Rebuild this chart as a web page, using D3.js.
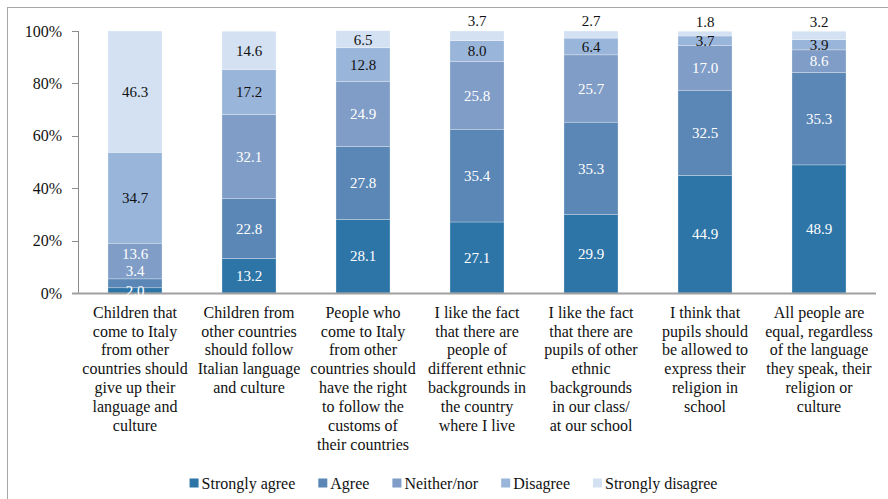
<!DOCTYPE html>
<html>
<head>
<meta charset="utf-8">
<script src="https://cdn.jsdelivr.net/npm/d3@7"></script>
<style>
  html, body { margin: 0; padding: 0; background: #fff; }
  svg { display: block; }
  svg text { font-family: "Liberation Serif", "Times New Roman", serif; }
</style>
</head>
<body>
<svg id="chart" width="888" height="499"></svg>
<script>
// Statements shown on the x axis (one entry per wrapped line)
const categories = [
  ["Children that", "come to Italy", "from other", "countries should", "give up their", "language and", "culture"],
  ["Children from", "other countries", "should follow", "Italian language", "and culture"],
  ["People who", "come to Italy", "from other", "countries should", "have the right", "to follow the", "customs of", "their countries"],
  ["I like the fact", "that there are", "people of", "different ethnic", "backgrounds in", "the country", "where I live"],
  ["I like the fact", "that there are", "pupils of other", "ethnic", "backgrounds", "in our class/", "at our school"],
  ["I think that", "pupils should", "be allowed to", "express their", "religion in", "school"],
  ["All people are", "equal, regardless", "of the language", "they speak, their", "religion or", "culture"]
];

const seriesNames = ["Strongly agree", "Agree", "Neither/nor", "Disagree", "Strongly disagree"];

// Percentages per answer, one value per statement
const stronglyAgree    = [2.0, 13.2, 28.1, 27.1, 29.9, 44.9, 48.9];
const agree            = [3.4, 22.8, 27.8, 35.4, 35.3, 32.5, 35.3];
const neitherNor       = [13.6, 32.1, 24.9, 25.8, 25.7, 17.0, 8.6];
const disagree         = [34.7, 17.2, 12.8, 8.0, 6.4, 3.7, 3.9];
const stronglyDisagree = [46.3, 14.6, 6.5, 3.7, 2.7, 1.8, 3.2];

const yTicks = [0, 20, 40, 60, 80, 100];

const seriesValues = [stronglyAgree, agree, neitherNor, disagree, stronglyDisagree];
const colors = ["#2E75A7", "#5B87B6", "#7F9DC6", "#9AB5DA", "#D3E1F3"];
const labelColors = ["#fff", "#fff", "#fff", "#111", "#111"];

const svg = d3.select("#chart");
const W = 888, H = 499;

// outer frame
svg.append("rect")
  .attr("x", 7.5).attr("y", 7.5)
  .attr("width", W + 10).attr("height", H + 10)
  .attr("fill", "none").attr("stroke", "#a6a6a6").attr("stroke-width", 1);

const x = d3.scaleBand()
  .domain(d3.range(categories.length))
  .range([78, 876])
  .paddingInner(0.526)
  .paddingOuter(0.263);

const y = d3.scaleLinear().domain([0, 100]).range([293, 31]);

// build stack rows
const rows = categories.map((c, i) => {
  const r = { idx: i };
  seriesNames.forEach((s, k) => { r[s] = seriesValues[k][i]; });
  return r;
});
const stacked = d3.stack().keys(seriesNames)(rows);

// bars
const layers = svg.append("g").selectAll("g")
  .data(stacked)
  .join("g")
  .attr("fill", (d, k) => colors[k]);

layers.selectAll("rect")
  .data(d => d)
  .join("rect")
  .attr("x", d => x(d.data.idx))
  .attr("width", x.bandwidth())
  .attr("y", d => y(d[1]))
  .attr("height", d => y(d[0]) - y(d[1]))
  .attr("stroke", "rgba(255,255,255,0.45)")
  .attr("stroke-width", 0.6);

// y axis
const axis = svg.append("g");
axis.append("line")
  .attr("x1", 78.5).attr("x2", 78.5)
  .attr("y1", y(100)).attr("y2", y(0))
  .attr("stroke", "#8c8c8c").attr("stroke-width", 1);
axis.selectAll(".tick")
  .data(yTicks)
  .join("line")
  .attr("x1", 72).attr("x2", 78.5)
  .attr("y1", d => Math.round(y(d)) + 0.5).attr("y2", d => Math.round(y(d)) + 0.5)
  .attr("stroke", "#8c8c8c");
axis.selectAll("text")
  .data(yTicks)
  .join("text")
  .attr("x", 62)
  .attr("y", d => y(d))
  .attr("dy", "0.35em")
  .attr("text-anchor", "end")
  .attr("font-size", 16)
  .attr("fill", "#111")
  .text(d => d + "%");

// baseline
svg.append("line")
  .attr("x1", 72).attr("x2", 876)
  .attr("y1", y(0) + 0.5).attr("y2", y(0) + 0.5)
  .attr("stroke", "#a0a0a0").attr("stroke-width", 2);

// value labels
const nudge = { "0-1": -13, "0-2": -7 };
stacked.forEach((layer, k) => {
  layer.forEach(d => {
    const i = d.data.idx;
    const v = seriesValues[k][i];
    const cx = x(i) + x.bandwidth() / 2;
    let cy = (y(d[0]) + y(d[1])) / 2;
    let fill = labelColors[k];
    if (k === 4 && v < 5) {
      cy = y(d[1]) - 10;
      fill = "#111";
    }
    cy += nudge[i + "-" + k] || 0;
    svg.append("text")
      .attr("x", cx).attr("y", cy)
      .attr("dy", "0.35em")
      .attr("text-anchor", "middle")
      .attr("font-size", 15)
      .attr("fill", fill)
      .text(v.toFixed(1));
  });
});

// category labels
const cat = svg.append("g");
categories.forEach((lines, i) => {
  const t = cat.append("text")
    .attr("text-anchor", "middle")
    .attr("font-size", 16)
    .attr("fill", "#111");
  lines.forEach((ln, j) => {
    t.append("tspan")
      .attr("x", x(i) + x.bandwidth() / 2)
      .attr("y", 312 + j * 18.9)
      .attr("dy", "0.35em")
      .text(ln);
  });
});

// legend
const legend = svg.append("g");
const items = seriesNames.map((s, k) => {
  const g = legend.append("g");
  g.append("rect").attr("width", 9).attr("height", 9).attr("y", -4.5).attr("fill", colors[k]);
  const t = g.append("text").attr("x", 12).attr("dy", "0.35em")
    .attr("font-size", 16).attr("fill", "#111").text(s);
  return { g, w: 12 + t.node().getComputedTextLength() };
});
const gap = 23;
const total = d3.sum(items, d => d.w) + gap * (items.length - 1);
let lx = 453.5 - total / 2;
items.forEach(it => {
  it.g.attr("transform", `translate(${lx},483)`);
  lx += it.w + gap;
});
</script>
</body>
</html>
